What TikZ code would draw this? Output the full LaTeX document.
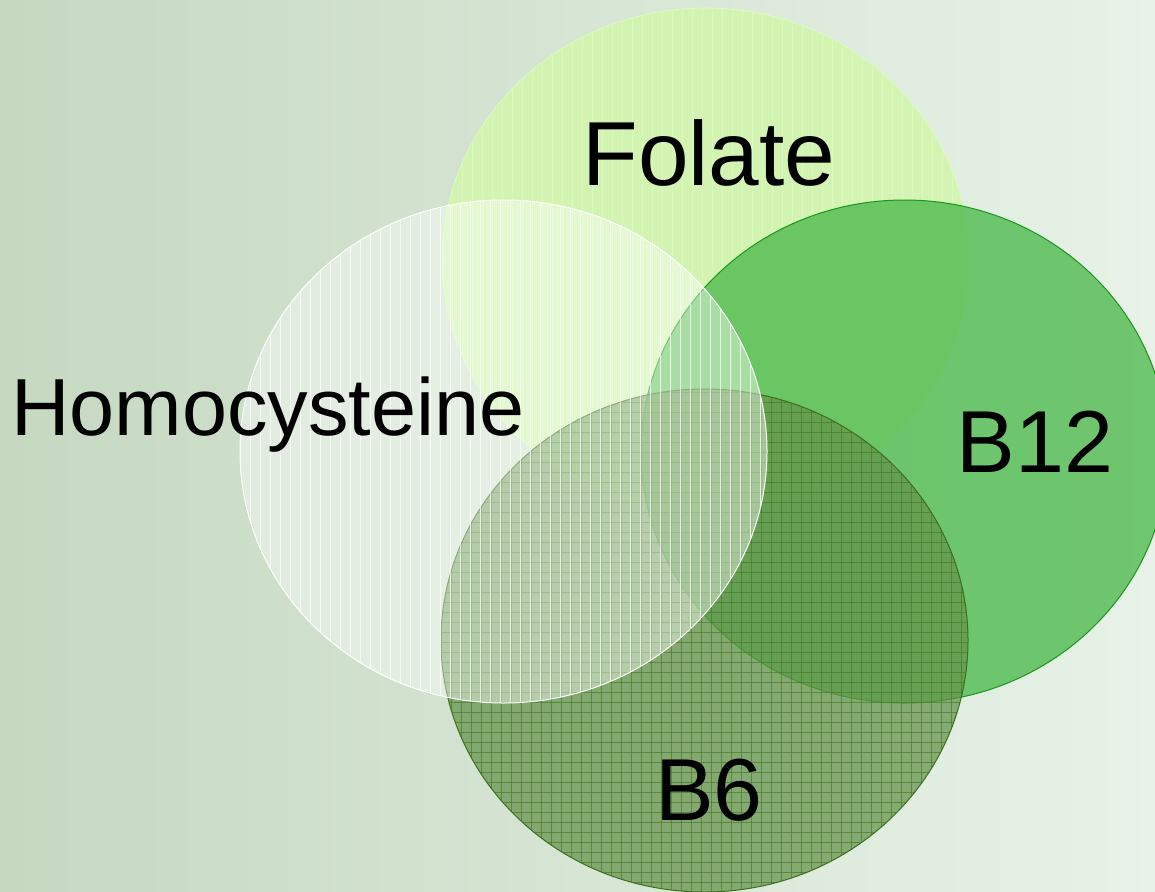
\documentclass[tikz,border=0pt]{standalone}
\usepackage{fontspec}
\setmainfont{Liberation Sans}
\usetikzlibrary{shapes.geometric}
\definecolor{bgl}{HTML}{C5D8C0}
\definecolor{bgr}{HTML}{E8F2E8}
\definecolor{folfill}{HTML}{D2F5AE}
\definecolor{folline}{HTML}{DDFFBE}
\definecolor{bfill}{HTML}{50BB50}
\definecolor{bline}{HTML}{1A961A}
\definecolor{sixfill}{HTML}{62924A}
\definecolor{sixgrid}{HTML}{4A7A28}
\definecolor{sixline}{HTML}{3D6E1E}
\tikzset{
  venn/.style={ellipse, minimum width=527pt, minimum height=503pt, inner sep=0pt},
  lbl/.style={inner sep=0pt, anchor=base, text=black},
  vstripes/.style={path picture={
      \foreach \i in {0,10,...,530}
        \draw[#1] ([xshift=\i pt]path picture bounding box.south west) -- ([xshift=\i pt]path picture bounding box.north west);
  }},
  gridpat/.style={path picture={
      \foreach \i in {0,10,...,530}
        \draw[#1] ([xshift=\i pt]path picture bounding box.south west) -- ([xshift=\i pt]path picture bounding box.north west);
      \foreach \i in {0,10,...,510}
        \draw[#1] ([yshift=\i pt]path picture bounding box.south west) -- ([yshift=\i pt]path picture bounding box.south east);
  }},
}
\begin{document}
\begin{tikzpicture}[x=1pt,y=-1pt]
  \useasboundingbox (0,0) rectangle (1155,891);
  \fill[left color=bgl, right color=bgr] (0,0) rectangle (1155,891);

  \node[venn, fill=folfill, fill opacity=0.9, draw=folline, line width=0.6pt,
        vstripes={folline, line width=0.8pt, opacity=0.6}] (folate) at (705.5,259.5) {};
  \node[venn, fill=bfill, fill opacity=0.8, draw=bline, line width=1pt] (b12) at (904.5,451.5) {};
  \node[venn, fill=sixfill, fill opacity=0.72, draw=sixline, line width=1pt,
        gridpat={sixgrid, line width=0.9pt, opacity=0.7}] (b6) at (704.5,640.5) {};
  \node[venn, fill=white, fill opacity=0.42, draw=white, line width=1pt,
        vstripes={white, line width=1pt, opacity=0.75}] (homo) at (503.5,451.5) {};

  \node[lbl, font=\fontsize{91}{100}\selectfont] (tfolate) at (709,185) {Folate};
  \node[lbl, font=\fontsize{81}{90}\selectfont] (thomo) at (268,435) {Homocysteine};
  \node[lbl, font=\fontsize{88}{98}\selectfont] (tb12) at (1035,472) {B12};
  \node[lbl, font=\fontsize{88}{98}\selectfont] (tb6) at (709,820) {B6};
\end{tikzpicture}
\end{document}
